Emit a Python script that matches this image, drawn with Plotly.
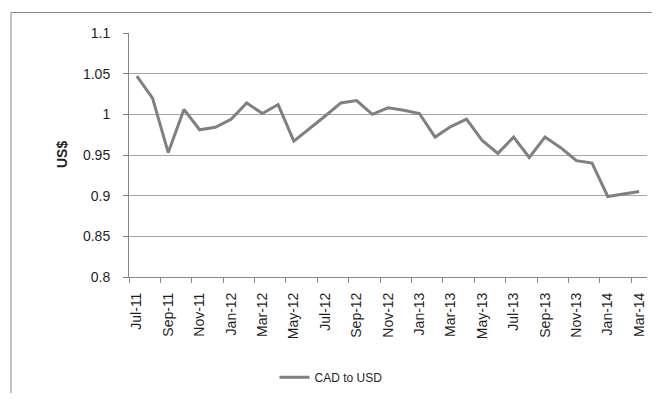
import plotly.graph_objects as go

months = ["Jul-11", "Aug-11", "Sep-11", "Oct-11", "Nov-11", "Dec-11",
          "Jan-12", "Feb-12", "Mar-12", "Apr-12", "May-12", "Jun-12",
          "Jul-12", "Aug-12", "Sep-12", "Oct-12", "Nov-12", "Dec-12",
          "Jan-13", "Feb-13", "Mar-13", "Apr-13", "May-13", "Jun-13",
          "Jul-13", "Aug-13", "Sep-13", "Oct-13", "Nov-13", "Dec-13",
          "Jan-14", "Feb-14", "Mar-14"]
cad_to_usd = [1.047, 1.020, 0.953, 1.006, 0.981, 0.984,
              0.994, 1.014, 1.001, 1.012, 0.967, 0.982,
              0.998, 1.014, 1.017, 1.000, 1.008, 1.005,
              1.001, 0.972, 0.985, 0.994, 0.968, 0.952,
              0.972, 0.947, 0.972, 0.959, 0.943, 0.940,
              0.899, 0.902, 0.905]
series_name = "CAD to USD"
y_title = "US$"

xs = list(range(len(months)))

# page body has an 8px default margin; figure sized to fit the window
OFF = 8
W, H = 644, 385
L = 129 - OFF
T = 32.5 - OFF
R = W - (647 - OFF)
B = H - (277 - OFF)
pw = W - L - R
ph = H - T - B


def px_x(x):  # screen px -> paper x
    return (x - OFF - L) / pw


def px_y(y):  # screen px -> paper y
    return (H - B - (y - OFF)) / ph


fig = go.Figure()
fig.add_trace(go.Scatter(
    x=xs, y=cad_to_usd, mode="lines", name=series_name,
    line=dict(color="#808080", width=3),
))

font_family = "Liberation Sans, Arial, sans-serif"
fig.update_layout(
    width=W, height=H,
    margin=dict(l=L, r=R, t=T, b=B, pad=0, autoexpand=False),
    paper_bgcolor="white", plot_bgcolor="white",
    font=dict(family=font_family, size=14, color="#1f1f1f"),
    showlegend=True,
    legend=dict(orientation="h", x=px_x(331), xanchor="center",
                y=px_y(H + OFF - 1), yanchor="bottom",
                font=dict(size=12, color="#1f1f1f"), bgcolor="rgba(0,0,0,0)",
                itemwidth=30),
    xaxis=dict(
        range=[-0.5, len(months) - 0.5], automargin=False,
        tickmode="array", tickvals=xs[::2], ticktext=months[::2],
        tickangle=-90, ticks="", showgrid=False, zeroline=False,
        showline=True, linecolor="#868686", linewidth=1,
        ticklabelstandoff=9,
        minor=dict(ticks="outside", tick0=-0.5, dtick=2, ticklen=5,
                   tickcolor="#868686", tickwidth=1, showgrid=False),
        tickfont=dict(size=14, color="#1f1f1f"),
    ),
    yaxis=dict(
        range=[0.8, 1.1], dtick=0.05, tick0=0.8, automargin=False,
        showgrid=True, gridcolor="#a6a6a6", gridwidth=1,
        zeroline=False, showline=True, linecolor="#868686", linewidth=1,
        ticks="outside", ticklen=5, tickcolor="#868686",
        ticklabelstandoff=10,
        tickfont=dict(size=14, color="#1f1f1f"),
    ),
    annotations=[dict(
        text="<b>" + y_title + "</b>", xref="paper", yref="paper",
        x=px_x(62), y=0.5, xanchor="center", yanchor="middle",
        textangle=-90, showarrow=False, font=dict(size=14, color="#1f1f1f"),
    )],
    shapes=[dict(
        type="rect", xref="paper", yref="paper",
        x0=px_x(11), x1=px_x(700),
        y0=px_y(450), y1=px_y(12),
        line=dict(color="#868686", width=1), fillcolor="rgba(0,0,0,0)",
        layer="below",
    )],
)

fig.write_html("out.html")
